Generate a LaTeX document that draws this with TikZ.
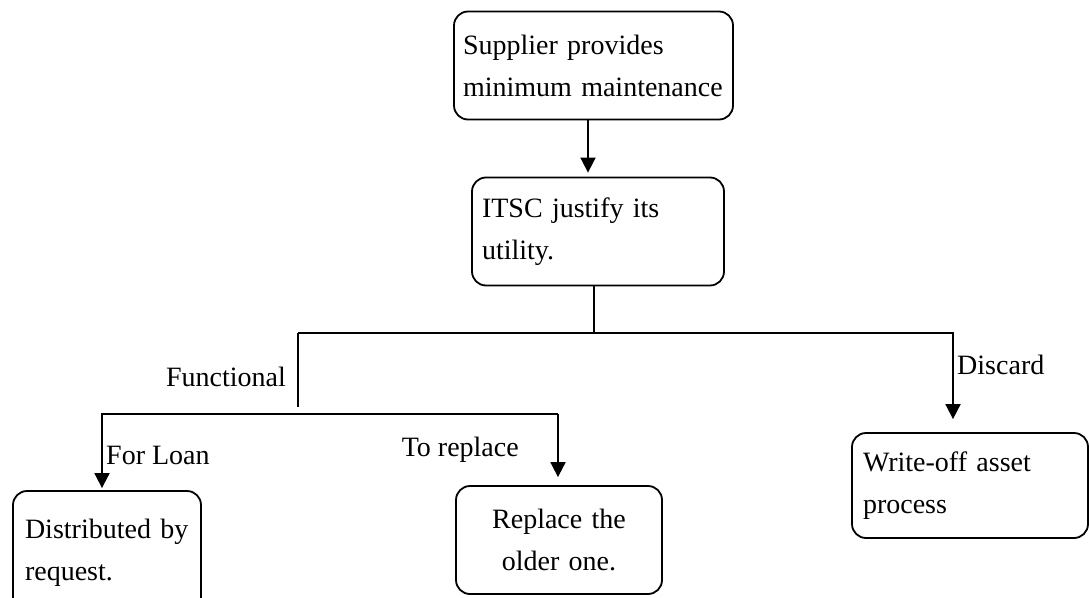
\documentclass[tikz,border=0pt]{standalone}
\usepackage{fontspec}
\setmainfont{Liberation Serif}
\usepackage{tikz}
\usetikzlibrary{arrows.meta}
\tikzstyle{process} = [rectangle, rounded corners=14pt, minimum height=108pt, draw=black, line width=1.8pt, font=\fontsize{28}{42}\selectfont, align=left]
\tikzstyle{link} = [line width=1.8pt]
\tikzstyle{arrow} = [line width=1.8pt, -{Triangle[length=15pt,width=15pt]}]
\tikzstyle{tag} = [font=\fontsize{28}{34}\selectfont]

\begin{document}
\begin{tikzpicture}[x=1pt, y=1pt, node distance=166pt]
\useasboundingbox (0,0) rectangle (1089,-597);
\node (supplier) [process, text width=261pt, inner xsep=9pt] at (593.5,-65.5) {Supplier provides\\minimum maintenance};
\node (itsc) [process, text width=232pt, inner xsep=10pt, below of=supplier, xshift=4.5pt] {ITSC justify its\\utility.};
\node (writeoff) [process, text width=214pt, inner xsep=11pt, minimum height=105pt, below of=itsc, xshift=372pt, yshift=-88pt] {Write-off asset\\process};
\node (replace) [process, text width=186pt, inner xsep=10pt, align=center, below of=itsc, xshift=-39pt, yshift=-142.5pt] {Replace the\\older one.};
\node (distr) [process, text width=164pt, inner xsep=12pt, minimum height=124pt, below of=itsc, xshift=-491pt, yshift=-155.5pt] {Distributed by\\request.};

\coordinate (split) at (594,-333);
\coordinate (funcTop) at (298,-333);
\coordinate (discTop) at (953,-333);
\coordinate (funcEnd) at (298,-407);
\coordinate (loanTop) at (102,-414);
\coordinate (replTop) at (558,-414);

\draw [arrow] ([xshift=-5.5pt]supplier.south) -- ([xshift=-10pt, yshift=4pt]itsc.north);
\draw [link] ([xshift=-4pt]itsc.south) -- (split);
\draw [arrow] (funcTop) -- (discTop) -- node[tag, right, yshift=11pt] {Discard} ([xshift=-17pt, yshift=13pt]writeoff.north);
\draw [link] (funcTop) -- node[tag, left, xshift=-8pt, yshift=-7pt] {Functional} (funcEnd);
\draw [arrow] (replTop) -- (loanTop) -- node[tag, right, yshift=-4pt] {For Loan} ([xshift=-5pt, yshift=2pt]distr.north);
\draw [arrow] (replTop) -- node[tag, left, xshift=-35pt, yshift=-4pt] {To replace} ([xshift=-1pt, yshift=8pt]replace.north);
\end{tikzpicture}
\end{document}
